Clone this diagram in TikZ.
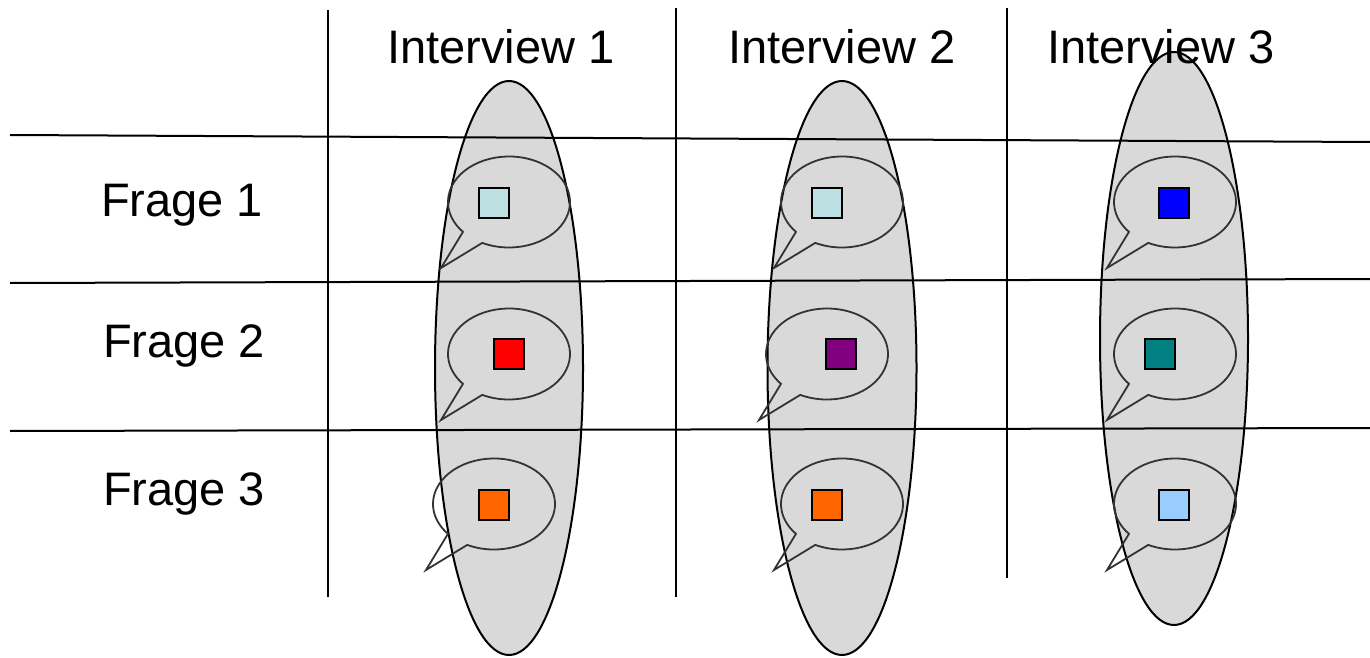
\documentclass[tikz,border=0pt]{standalone}
\usepackage{fontspec}
\setmainfont{Liberation Sans}
\definecolor{sqcyan}{HTML}{BDE0E3}
\definecolor{sqorange}{HTML}{FF6600}
\definecolor{sqpurple}{HTML}{800080}
\definecolor{sqblue}{HTML}{0000FF}
\definecolor{sqteal}{HTML}{008080}
\definecolor{sqsky}{HTML}{99CCFF}
\definecolor{ellgray}{HTML}{D9D9D9}
\definecolor{bubline}{HTML}{333333}
\tikzset{
  gridline/.style={line width=2pt, black},
  bigell/.style={fill=ellgray, draw=black, line width=2pt},
  bubble/.style={draw=bubline, line width=1.8pt, line join=miter},
  sq/.style={draw=black, line width=2pt, minimum size=30pt, inner sep=0pt},
  lbl/.style={font=\fontsize{47}{56}\selectfont, anchor=base, inner sep=0pt}
}
\newcommand\speechbub[2]{%
  \draw[bubble, shift={(#1,#2)}] (244:61 and 45.5)
    arc[start angle=244, end angle=581, x radius=61, y radius=45.5]
    -- (-68,-66) -- cycle;}
\begin{document}
\begin{tikzpicture}[x=1pt,y=1pt]
\useasboundingbox (0,0) rectangle (1370,657);
% big ellipses (fill)
\fill[ellgray] (509,289) ellipse[x radius=74, y radius=287];
\fill[ellgray] (842,289) ellipse[x radius=74.5, y radius=287];
\fill[ellgray] (1174,318.5) ellipse[x radius=74, y radius=286.5];
% grid lines
\coordinate (v1t) at (328,647); \coordinate (v1b) at (328,60);
\coordinate (v2t) at (676,649); \coordinate (v2b) at (676,60);
\coordinate (v3t) at (1007,649); \coordinate (v3b) at (1007,79);
\coordinate (h1l) at (10,522); \coordinate (h1r) at (1370,515);
\coordinate (h2l) at (10,374); \coordinate (h2r) at (1370,378);
\coordinate (h3l) at (10,226); \coordinate (h3r) at (1370,229);
\draw[gridline] (v1t) -- (v1b);
\draw[gridline] (v2t) -- (v2b);
\draw[gridline] (v3t) -- (v3b);
\draw[gridline] (h1l) -- (h1r);
\draw[gridline] (h2l) -- (h2r);
\draw[gridline] (h3l) -- (h3r);
% labels
\node[lbl] (i1) at (501,593) {Interview 1};
\node[lbl] (i2) at (842,593) {Interview 2};
\node[lbl] (i3) at (1161,593) {Interview 3};
\node[lbl] (f1) at (182,440) {Frage 1};
\node[lbl] (f2) at (184,300) {Frage 2};
\node[lbl] (f3) at (184,152) {Frage 3};
% big ellipse outlines
\draw[line width=2pt] (509,289) ellipse[x radius=74, y radius=287];
\draw[line width=2pt] (842,289) ellipse[x radius=74.5, y radius=287];
\draw[line width=2pt] (1174,318.5) ellipse[x radius=74, y radius=286.5];
% speech bubbles
\speechbub{509}{455}
\speechbub{509}{303}
\speechbub{494}{153}
\speechbub{842}{455}
\speechbub{827}{303}
\speechbub{842}{153}
\speechbub{1175}{455}
\speechbub{1175}{303}
\speechbub{1175}{153}
% squares
\node[sq, fill=sqcyan] (s11) at (494,454) {};
\node[sq, fill=red] (s12) at (509,303) {};
\node[sq, fill=sqorange] (s13) at (494,152) {};
\node[sq, fill=sqcyan] (s21) at (827,454) {};
\node[sq, fill=sqpurple] (s22) at (841,303) {};
\node[sq, fill=sqorange] (s23) at (827,152) {};
\node[sq, fill=sqblue] (s31) at (1174,454) {};
\node[sq, fill=sqteal] (s32) at (1160,303) {};
\node[sq, fill=sqsky] (s33) at (1174,152) {};
\end{tikzpicture}
\end{document}
